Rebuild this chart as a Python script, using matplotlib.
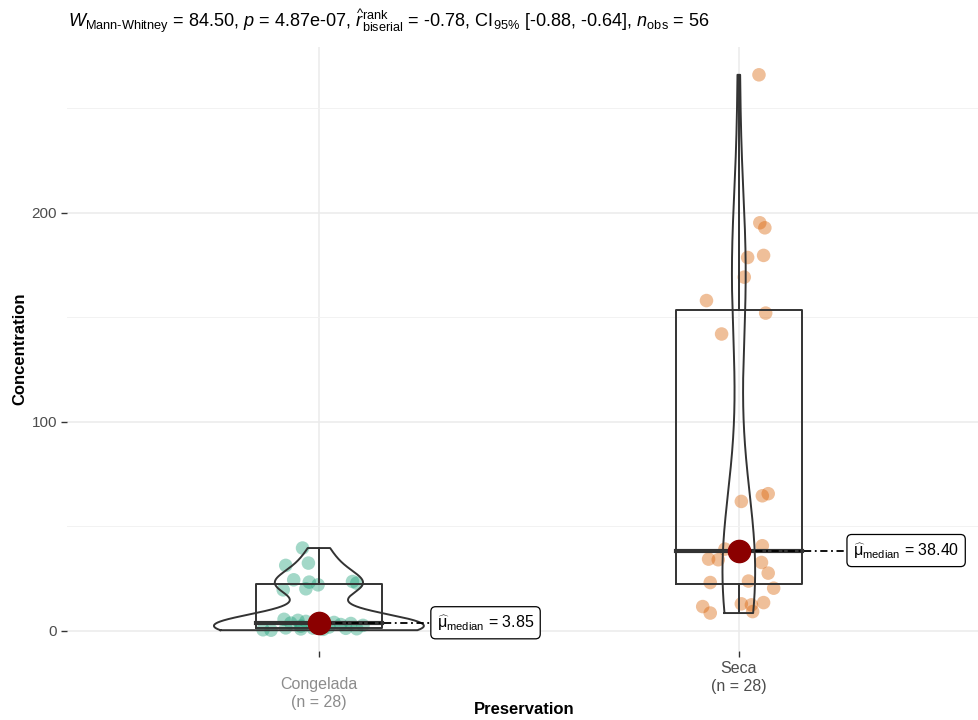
import numpy as np
import matplotlib
matplotlib.use("Agg")
import matplotlib.pyplot as plt

plt.rcParams['font.family'] = ['Liberation Sans', 'DejaVu Sans']
plt.rcParams['mathtext.fontset'] = 'custom'
plt.rcParams['mathtext.rm'] = 'Liberation Sans'
plt.rcParams['mathtext.it'] = 'Liberation Sans:italic'
plt.rcParams['mathtext.bf'] = 'Liberation Sans:bold'

# data
groups = ['Congelada', 'Seca']
group_n = [28, 28]
medians = [3.85, 38.40]
point_colors = ['#1B9E77', '#D95F02']

cong_vals = [39.6, 32.4, 31.3, 24.4, 23.6, 23.3, 22.8, 22.0, 20.1, 19.6,
             5.5, 5.0, 4.5, 4.0, 3.7, 3.5, 3.0, 2.6, 2.2, 1.8,
             1.4, 1.3, 1.2, 1.0, 0.9, 0.7, 0.5, 0.3]
cong_jit = [-0.039, -0.025, -0.079, -0.060, 0.080, -0.023, 0.090, -0.002, -0.031, -0.085,
            -0.083, -0.050, -0.031, 0.036, -0.067, 0.076, 0.052, 0.105, -0.043, 0.024,
            -0.079, -0.014, 0.064, 0.090, -0.043, 0.010, -0.133, -0.114]

seca_vals = [266.0, 195.2, 192.8, 179.6, 178.6, 169.2, 158.0, 152.0, 142.0,
             65.6, 64.6, 61.9, 40.7, 39.1, 37.7, 34.3, 34.0, 32.7, 27.6,
             23.8, 23.1, 20.4, 13.5, 12.9, 12.4, 11.6, 9.2, 8.5]
seca_jit = [0.048, 0.050, 0.062, 0.059, 0.021, 0.013, -0.077, 0.064, -0.041,
            0.070, 0.056, 0.006, 0.056, -0.033, 0.000, -0.072, -0.049, 0.054, 0.070,
            0.023, -0.068, 0.083, 0.059, 0.006, 0.030, -0.086, 0.033, -0.068]

title = (r"$\mathit{W}_{\mathrm{Mann‐Whitney}}$ = 84.50, $\mathit{p}$ = 4.87e-07, "
         r"$\widehat{\mathit{r}}_{\mathrm{biserial}}^{\mathrm{rank}}$ = -0.78, "
         r"CI$_{\mathrm{95\%}}$ [-0.88, -0.64], $\mathit{n}_{\mathrm{obs}}$ = 56")

all_vals = [np.array(cong_vals), np.array(seca_vals)]
all_jit = [np.array(cong_jit), np.array(seca_jit)]


def density(v):
    # gaussian kde with R's bw.nrd0, trimmed to data range
    n = len(v)
    q75, q25 = np.percentile(v, [75, 25])
    bw = 0.9 * min(np.std(v, ddof=1), (q75 - q25) / 1.34) * n ** -0.2
    grid = np.linspace(v.min(), v.max(), 512)
    d = np.exp(-0.5 * ((grid[:, None] - v[None, :]) / bw) ** 2).sum(1) / (n * bw * np.sqrt(2 * np.pi))
    return grid, d


fig = plt.figure(figsize=(9.79, 7.2), dpi=100)
ax = fig.add_axes([0.0684, 0.096, 0.9316, 0.839])

dens = [density(v) for v in all_vals]
dmax = max(d.max() for g, d in dens)
line_col = '#333333'

for i, v in enumerate(all_vals):
    xc = i + 1
    # jittered points
    ax.scatter(xc + all_jit[i], v, s=95, color=point_colors[i], alpha=0.4,
               edgecolors='none', zorder=2)
    # violin
    g, d = dens[i]
    hw = d / dmax * 0.25
    vx = np.concatenate([xc - hw, (xc + hw)[::-1], [xc - hw[0]]])
    vy = np.concatenate([g, g[::-1], [g[0]]])
    ax.plot(vx, vy, color=line_col, lw=1.4, zorder=3)
    # boxplot
    q1, med, q3 = np.percentile(v, [25, 50, 75])
    iqr = q3 - q1
    lo = v[v >= q1 - 1.5 * iqr].min()
    hi = v[v <= q3 + 1.5 * iqr].max()
    bw = 0.15
    ax.plot([xc - bw, xc + bw, xc + bw, xc - bw, xc - bw], [q1, q1, q3, q3, q1],
            color=line_col, lw=1.4, zorder=3)
    ax.plot([xc - bw, xc + bw], [med, med], color=line_col, lw=3, zorder=3)
    ax.plot([xc, xc], [q3, hi], color=line_col, lw=1.4, zorder=3)
    ax.plot([xc, xc], [lo, q1], color=line_col, lw=1.4, zorder=3)

# median points and labels
label_x = [1.271, 2.262]
for i, m in enumerate(medians):
    xc = i + 1
    ax.plot([xc, label_x[i]], [m, m], color='black', lw=1.3,
            ls=(0, (4, 2, 1, 2)), zorder=4)
    ax.plot(xc, m, 'o', ms=16, color='#8B0000', zorder=5)
    ax.text(label_x[i] + 0.01, m, r"$\widehat{\mathrm{\mu}}_{\mathrm{median}}$ = %.2f" % m,
            fontsize=11.5, va='center', ha='left', color='black', zorder=6,
            bbox=dict(boxstyle='round,pad=0.38,rounding_size=0.3', fc='white',
                      ec='black', lw=0.9))

ax.set_xlim(0.4, 2.572)
ax.set_ylim(-9.6, 279.4)
ax.set_yticks([0, 100, 200])
ax.set_yticks([50, 150, 250], minor=True)
ax.set_xticks([1, 2])
ax.set_xticklabels([])
ax.grid(True, which='major', color='#EBEBEB', lw=1.1)
ax.grid(True, which='minor', axis='y', color='#F2F2F2', lw=0.7)
ax.set_axisbelow(True)
for s in ax.spines.values():
    s.set_visible(False)
ax.tick_params(which='major', length=4, width=1, color='#333333',
               labelsize=11, labelcolor='#4D4D4D', pad=3)
ax.tick_params(which='minor', length=0)

# category labels (the first one sits a bit lower in the original)
lab_y = [-0.044, -0.016]
lab_col = ['#8C8C8C', '#4D4D4D']
for i, name in enumerate(groups):
    ax.text(i + 1, lab_y[i], "%s\n(n = %d)" % (name, group_n[i]),
            transform=ax.get_xaxis_transform(), ha='center', va='top',
            fontsize=11.5, color=lab_col[i], linespacing=1.25)

ax.set_ylabel('Concentration', fontsize=12, fontweight='bold', labelpad=3)
fig.text(0.535, 0.004, 'Preservation', fontsize=12, fontweight='bold',
         ha='center', va='bottom')
fig.text(0.069, 0.971, title, fontsize=13.1, ha='left', va='center')

fig.savefig('out.png', dpi=100)
